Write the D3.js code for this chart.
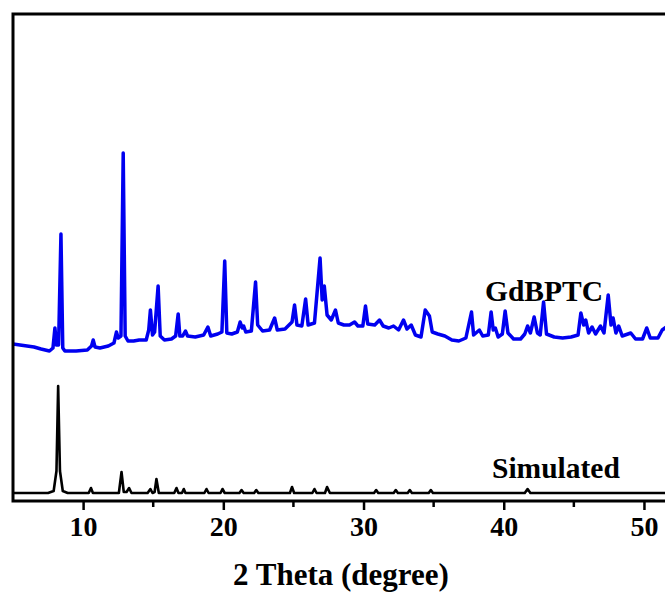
<!DOCTYPE html>
<html>
<head>
<meta charset="utf-8">
<script src="https://cdn.jsdelivr.net/npm/d3@7"></script>
<style>
  body { margin: 0; background: #fff; }
  svg { display: block; }
  text { font-family: "Liberation Serif", "Times New Roman", serif; font-weight: bold; fill: #000; }
</style>
</head>
<body>
<div class="board"></div>
<script>
// XRD patterns, intensity in arbitrary units (already stacked as in the figure)

var twoTheta = [5, 10, 20, 30, 40, 50];
var tickLabels = ['10', '20', '30', '40', '50'];

// measured pattern, GdBPTC  [2theta, intensity]
var gdbptc = [
  [5.0, 157], [5.5, 156], [6.0, 155], [6.5, 154], [7.0, 152], [7.6, 150], [7.85, 153],
  [7.99, 173], [8.1, 156], [8.25, 156], [8.42, 267], [8.55, 153], [8.7, 150], [9.5, 150],
  [10.3, 151], [10.6, 155], [10.72, 161], [10.85, 154], [11.2, 153], [11.8, 155], [12.2, 158],
  [12.38, 169], [12.5, 163], [12.7, 165], [12.86, 348], [13.0, 165], [13.2, 160], [13.6, 160],
  [14.0, 161], [14.5, 161], [14.68, 171], [14.8, 191], [14.95, 166], [15.1, 169], [15.35, 215],
  [15.5, 165], [15.8, 161], [16.3, 162], [16.6, 165], [16.78, 187], [16.9, 165], [17.1, 165],
  [17.3, 170], [17.45, 165], [18.0, 164], [18.6, 166], [18.9, 174], [19.1, 165], [19.6, 167],
  [19.9, 169], [20.1, 240], [20.25, 168], [20.6, 167], [21.0, 169], [21.2, 179], [21.35, 173],
  [21.45, 175], [21.6, 169], [22.0, 170], [22.3, 219], [22.45, 176], [22.8, 170], [23.3, 171],
  [23.66, 183], [23.85, 171], [24.4, 172], [24.9, 179], [25.08, 196], [25.25, 176], [25.6, 175],
  [25.87, 202], [26.05, 176], [26.5, 178], [26.9, 243], [27.05, 201], [27.2, 215], [27.4, 186],
  [27.7, 181], [28.0, 191], [28.2, 178], [28.6, 176], [29.0, 176], [29.36, 179], [29.6, 175],
  [29.95, 175], [30.14, 195], [30.3, 177], [30.8, 176], [31.14, 181], [31.4, 175], [31.8, 173],
  [32.14, 175], [32.5, 171], [32.85, 181], [33.1, 172], [33.4, 176], [33.7, 166], [34.1, 164],
  [34.4, 191], [34.7, 185], [34.9, 169], [35.3, 167], [35.8, 165], [36.3, 161], [36.8, 160],
  [37.3, 163], [37.7, 189], [37.85, 166], [38.26, 171], [38.5, 165], [38.9, 166], [39.1, 189],
  [39.25, 171], [39.4, 173], [39.6, 164], [39.9, 167], [40.1, 190], [40.3, 168], [40.7, 162],
  [41.2, 162], [41.5, 167], [41.7, 175], [41.9, 168], [42.17, 184], [42.4, 168], [42.6, 166],
  [42.84, 199], [43.05, 167], [43.6, 164], [44.2, 163], [44.8, 164], [45.3, 166], [45.5, 188],
  [45.7, 176], [45.85, 181], [46.05, 168], [46.3, 174], [46.55, 167], [46.9, 175], [47.15, 168],
  [47.45, 206], [47.65, 176], [47.8, 183], [48.0, 168], [48.2, 175], [48.45, 165], [49.06, 168],
  [49.4, 162], [49.9, 162], [50.2, 173], [50.45, 163], [51.0, 163], [51.3, 171], [51.6, 174],
  [52.0, 173]
];

// simulated pattern from the single crystal structure
var simulated = [
  [5.0, 8], [7.5, 8], [7.9, 10], [8.1, 30], [8.22, 115], [8.35, 30], [8.55, 10], [8.9, 8],
  [10.4, 8], [10.56, 13], [10.7, 8], [12.55, 8], [12.74, 29], [12.9, 9], [13.1, 9], [13.28, 13],
  [13.45, 8], [14.6, 8], [14.8, 12], [14.95, 8], [15.1, 9], [15.23, 22], [15.4, 8], [16.5, 8],
  [16.66, 13], [16.8, 8], [17.05, 8], [17.18, 12], [17.3, 8], [18.65, 8], [18.8, 12], [18.95, 8],
  [19.8, 8], [19.94, 12], [20.1, 8], [21.15, 8], [21.3, 11], [21.45, 8], [22.2, 8], [22.35, 11],
  [22.5, 8], [24.75, 8], [24.9, 14], [25.05, 8], [26.35, 8], [26.5, 12], [26.65, 8], [27.25, 8],
  [27.4, 14], [27.6, 8], [30.75, 8], [30.9, 11], [31.05, 8], [32.15, 8], [32.3, 11], [32.45, 8],
  [33.15, 8], [33.3, 11], [33.45, 8], [34.65, 8], [34.8, 11], [34.95, 8], [41.5, 8], [41.7, 12],
  [41.9, 8], [52.0, 8]
];

var seriesLabels = ['GdBPTC', 'Simulated'];

var opts = {
  width: 665,
  height: 594,
  left: 13,
  top: 14,
  right: 672,
  bottom: 501
};

var x = d3.scaleLinear().domain([5, 52]).range([opts.left, opts.right]);
var y = d3.scaleLinear().domain([0, 487]).range([opts.bottom, opts.top]);

var svg = d3.select('.board')
  .append('svg')
  .attr('width', opts.width)
  .attr('height', opts.height);

svg.append('clipPath').attr('id', 'plot-clip')
  .append('rect')
  .attr('x', opts.left).attr('y', opts.top)
  .attr('width', opts.right - opts.left).attr('height', opts.bottom - opts.top);

var line = d3.line()
  .x(function(d) { return x(d[0]); })
  .y(function(d) { return y(d[1]); });

var plot = svg.append('g').attr('clip-path', 'url(#plot-clip)');

plot.append('path')
  .datum(simulated)
  .attr('d', line)
  .attr('fill', 'none')
  .attr('stroke', '#000')
  .attr('stroke-width', 2.6)
  .attr('stroke-linejoin', 'round');

plot.append('path')
  .datum(gdbptc)
  .attr('d', line)
  .attr('fill', 'none')
  .attr('stroke', '#0000f0')
  .attr('stroke-width', 3.5)
  .attr('stroke-linejoin', 'round');

// frame
svg.append('rect')
  .attr('x', opts.left).attr('y', opts.top)
  .attr('width', opts.right - opts.left).attr('height', opts.bottom - opts.top)
  .attr('fill', 'none')
  .attr('stroke', '#000')
  .attr('stroke-width', 3);

// bottom axis: major ticks every 10, minor every 5
var xAxis = d3.axisBottom(x)
  .tickValues(twoTheta.slice(1))
  .tickFormat(function(d, i) { return tickLabels[i]; })
  .tickSize(9)
  .tickPadding(6);

var axisG = svg.append('g')
  .attr('transform', 'translate(0,' + opts.bottom + ')')
  .call(xAxis);

axisG.select('.domain').remove();
axisG.selectAll('.tick line').attr('stroke', '#000').attr('stroke-width', 2.5);
axisG.selectAll('.tick text')
  .attr('font-family', '"Liberation Serif", serif')
  .attr('font-weight', 'bold')
  .attr('font-size', 28)
  .attr('dy', '0.72em');

var minorTicks = d3.range(15, 52, 10);
svg.append('g').selectAll('line')
  .data(minorTicks)
  .enter().append('line')
  .attr('x1', function(d) { return x(d); })
  .attr('x2', function(d) { return x(d); })
  .attr('y1', opts.bottom)
  .attr('y2', opts.bottom + 6)
  .attr('stroke', '#000')
  .attr('stroke-width', 2.5);

svg.append('text')
  .attr('x', 341)
  .attr('y', 585)
  .attr('text-anchor', 'middle')
  .attr('font-size', 31)
  .text('2 Theta (degree)');

// series labels
svg.append('text')
  .attr('x', 485)
  .attr('y', 301)
  .attr('font-size', 29.5)
  .text(seriesLabels[0]);

svg.append('text')
  .attr('x', 492)
  .attr('y', 478)
  .attr('font-size', 29.5)
  .text(seriesLabels[1]);
</script>
</body>
</html>
